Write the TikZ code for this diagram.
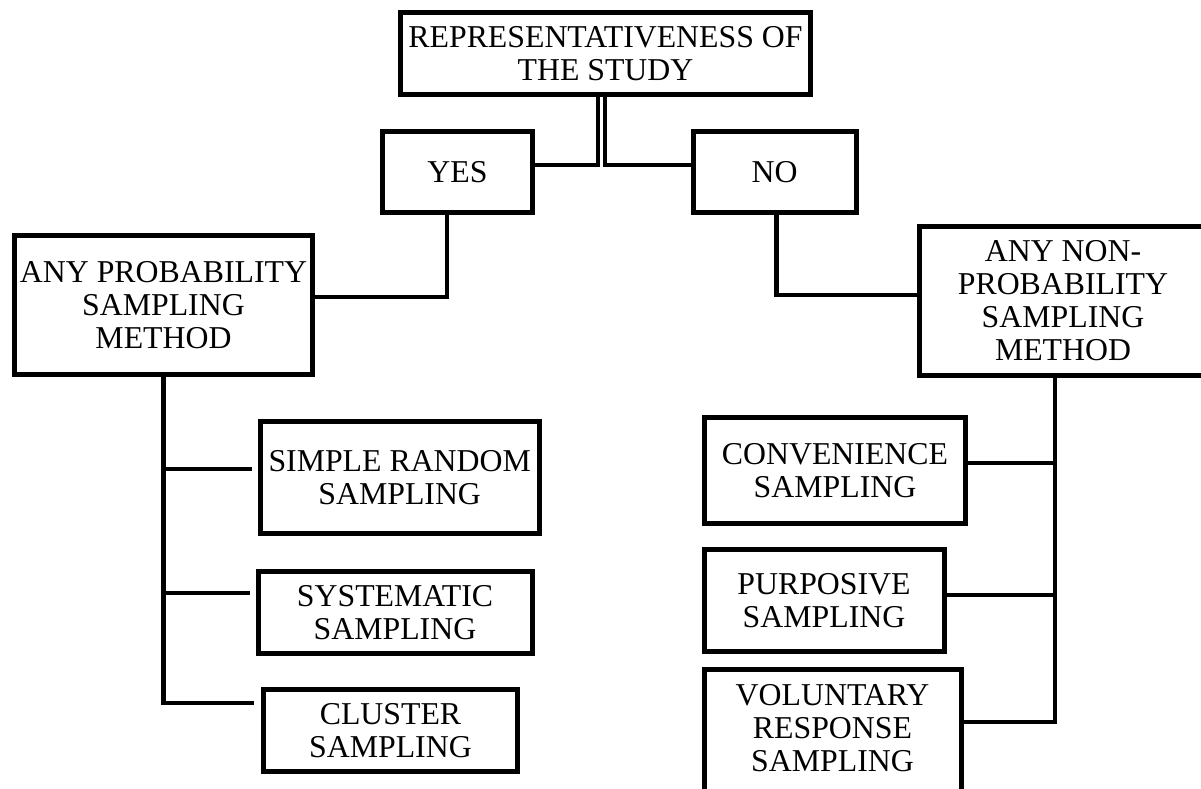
\documentclass[tikz,border=0pt]{standalone}
\usepackage{fontspec}
\setmainfont{Liberation Serif}
\usetikzlibrary{calc}
\tikzset{
  box/.style={draw=black, line width=5pt, rectangle, inner sep=0pt, align=center,
    font=\fontsize{31.8}{33}\selectfont},
  conn/.style={draw=black, line width=4.5pt},
}
\begin{document}
\begin{tikzpicture}[x=1pt,y=-1pt]
\useasboundingbox (0,0) rectangle (1201,788);
\fill[white] (0,0) rectangle (1201,788);
% nodes
\node[box, minimum width=410pt, minimum height=82pt] (top) at (605.5,53.5) {REPRESENTATIVENESS OF\\THE STUDY};
\node[box, minimum width=150pt, minimum height=81pt] (yes) at (457.5,172) {YES};
\node[box, minimum width=163pt, minimum height=81pt] (no) at (774.5,172) {NO};
\node[box, minimum width=298pt, minimum height=139pt] (prob) at (163.5,305) {ANY PROBABILITY\\SAMPLING\\METHOD};
\node[box, minimum width=287pt, minimum height=149pt] (nonprob) at (1063,301) {ANY NON-\\PROBABILITY\\SAMPLING\\METHOD};
\node[box, minimum width=279pt, minimum height=112pt] (simple) at (399.7,477.5) {SIMPLE RANDOM\\SAMPLING};
\node[box, minimum width=274pt, minimum height=82pt] (syst) at (395,612.5) {SYSTEMATIC\\SAMPLING};
\node[box, minimum width=254pt, minimum height=82pt] (clus) at (390.5,730.5) {CLUSTER\\SAMPLING};
\node[box, minimum width=261pt, minimum height=106pt] (conv) at (835,470.5) {CONVENIENCE\\SAMPLING};
\node[box, minimum width=240pt, minimum height=102pt] (purp) at (824,600.5) {PURPOSIVE\\SAMPLING};
\node[box, minimum width=257pt, minimum height=130pt, anchor=north] (vol) at (832.5,667) {};
\node[align=center, font=\fontsize{31.8}{33}\selectfont] (voltext) at (832.5,728) {VOLUNTARY\\RESPONSE\\SAMPLING};
% branch end coordinates (left side, not touching boxes)
\coordinate (b1) at ($(simple.west)+(-6,-8.5)$);
\coordinate (b2) at ($(syst.west)+(-6,-19.5)$);
\coordinate (b3) at ($(clus.west)+(-7,-27.5)$);
% connectors
\draw[conn] ($(top.south)+(-7.5,0)$) |- ($(yes.east)+(0,-7)$);
\draw[conn] ($(top.south)+(-0.5,0)$) |- ($(no.west)+(0,-7)$);
\draw[conn] ($(yes.south)+(-10.5,0)$) |- ($(prob.east)+(0,-8)$);
\draw[conn] ($(no.south)+(2,0)$) |- ($(nonprob.west)+(0,-6)$);
\draw[conn] (prob.south) |- (b3);
\draw[conn] (b1 -| prob.south) -- (b1);
\draw[conn] (b2 -| prob.south) -- (b2);
\draw[conn] ($(nonprob.south)+(-8,0)$) |- ($(vol.east |- voltext.center)+(0,-6)$);
\draw[conn] ($(conv.east)+(0,-7.5)$) -| ($(nonprob.south)+(-8,0)$);
\draw[conn] ($(purp.east)+(0,-5.5)$) -| ($(nonprob.south)+(-8,0)$);
\end{tikzpicture}
\end{document}
